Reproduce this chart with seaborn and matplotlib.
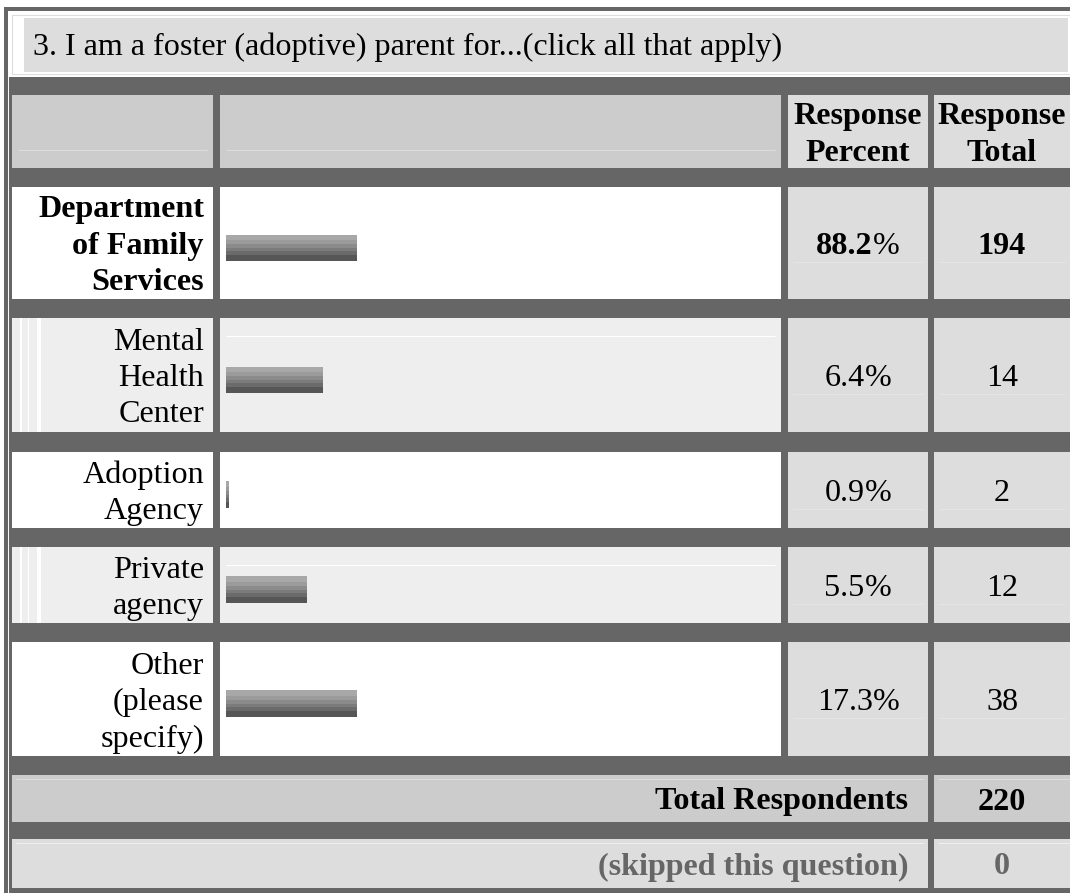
import numpy as np
import matplotlib.pyplot as plt
import seaborn as sns
from matplotlib.colors import to_rgb
from matplotlib.patches import Rectangle

sns.set_theme(style="white")
plt.rcParams['font.family'] = ['Liberation Serif', 'DejaVu Serif']
plt.rcParams['text.color'] = 'black'

# data
question = "3. I am a foster (adoptive) parent for...(click all that apply)"
answers = ["Department\nof Family\nServices", "Mental\nHealth\nCenter",
           "Adoption\nAgency", "Private\nagency", "Other\n(please\nspecify)"]
percents = [88.2, 6.4, 0.9, 5.5, 17.3]
counts = [194, 14, 2, 12, 38]
bar_widths = [131, 97, 3, 81, 131]   # bar images, as wide as drawn on the page (px)
col_headers = ["Response\nPercent", "Response\nTotal"]
total_respondents = 220
skipped = 0

# layout (pixels)
W, H = 1070, 893
DARK = "#666666"
FS = 23.1
cols = [(12, 213), (220, 781), (788, 928), (934, W)]
head = (95, 168)
rows = [(187, 299), (318, 432), (452, 528), (547, 623), (642, 756)]
total_row = (775, 822)
skip_row = (839, 888)
row_fill = ["white", "#eeeeee", "white", "#eeeeee", "white"]

fig = plt.figure(figsize=(W / 100, H / 100), dpi=100)
ax = fig.add_axes([0, 0, 1, 1])
ax.set_xlim(0, W)
ax.set_ylim(H, 0)
ax.axis("off")


def cell(x0, x1, y0, y1, color, z=1):
    ax.add_patch(Rectangle((x0, y0), x1 - x0, y1 - y0, facecolor=color,
                           edgecolor="none", zorder=z))


def hline(x0, x1, y, color, lw=1.0):
    ax.plot([x0, x1], [y, y], color=color, lw=lw * 0.72, zorder=2,
            solid_capstyle="butt")


def lines(x, yc, text, ha="center", weight="normal", color="black", gap=36.5):
    parts = text.split("\n")
    n = len(parts)
    for i, s in enumerate(parts):
        ax.text(x, yc + 11 + (i - (n - 1) / 2) * gap, s, ha=ha, va="baseline",
                fontsize=FS, fontweight=weight, color=color, zorder=5)


# frame + title
cell(4, W, 7, H, DARK, z=0)
ax.plot([7.5, 7.5], [14, H], color="white", lw=0.7, zorder=1)
cell(8, W, 11, 77, "white")
ax.add_patch(Rectangle((11.5, 14.5), W, 59, fill=False, edgecolor="#dddddd",
                       lw=0.8, zorder=1))
cell(24, 1068, 18, 72, "#dddddd", z=2)
ax.text(33, 55, question, ha="left", va="baseline", fontsize=FS,
        color="black", zorder=5)

# header row
for j, (x0, x1) in enumerate(cols):
    cell(x0, x1, head[0], head[1], "#cccccc" if j < 2 else "#dddddd")
    if j < 2:
        hline(x0 + 6, x1 - 6, 150, "#dddddd")
for (x0, x1), txt in zip(cols[2:], col_headers):
    lines((x0 + x1) / 2, (head[0] + head[1]) / 2, txt, weight="bold")

# answer rows
bar_y = [(a + b) / 2 + 5 for a, b in rows]
pct_parts = []
for i, (y0, y1) in enumerate(rows):
    yc = (y0 + y1) / 2
    w = "bold" if i == 0 else "normal"
    cell(cols[0][0], cols[0][1], y0, y1, row_fill[i])
    cell(cols[1][0], cols[1][1], y0, y1, row_fill[i])
    cell(cols[2][0], cols[2][1], y0, y1, "#dddddd")
    cell(cols[3][0], cols[3][1], y0, y1, "#dddddd")
    if row_fill[i] != "white":
        for sx, sw in [(20, 2), (28, 1), (37, 4)]:
            cell(sx, sx + sw, y0, y1, "white", z=2)
        hline(cols[1][0] + 6, cols[1][1] - 6, y0 + 18, "white")
    for x0, x1 in cols[2:]:
        hline(x0 + 5, x1 - 5, bar_y[i] + 14, "#e4e4e4")
    lines(204, yc, answers[i], ha="right", weight=w)
    t = ax.text(0, yc + 11, f"{percents[i]:.1f}", ha="left", va="baseline",
                fontsize=FS, fontweight=w, color="black", zorder=5)
    p = ax.annotate("%", xy=(1, 0), xycoords=t, ha="left", va="bottom",
                    fontsize=FS, color="black", zorder=5)
    pct_parts.append((t, p))
    lines(sum(cols[3]) / 2, yc, str(counts[i]), weight=w)

# totals
cell(cols[0][0], cols[2][1], *total_row, "#cccccc")
cell(cols[3][0], cols[3][1], *total_row, "#cccccc")
cell(cols[0][0], cols[2][1], *skip_row, "#dddddd")
cell(cols[3][0], cols[3][1], *skip_row, "#dddddd")
hline(cols[0][0] + 4, cols[2][1] - 4, total_row[0] + 4, "#dddddd")
hline(cols[3][0] + 4, cols[3][1], total_row[0] + 4, "#dddddd")
hline(cols[0][0] + 4, cols[2][1] - 4, skip_row[0] + 4, "#eeeeee")
hline(cols[3][0] + 4, cols[3][1], skip_row[0] + 4, "#eeeeee")
lines(908, sum(total_row) / 2, "Total Respondents", ha="right", weight="bold")
lines(sum(cols[3]) / 2, sum(total_row) / 2, str(total_respondents), weight="bold")
lines(908, sum(skip_row) / 2, "(skipped this question)", ha="right",
      weight="bold", color=DARK)
lines(sum(cols[3]) / 2, sum(skip_row) / 2, str(skipped), weight="bold", color=DARK)

# bars
bx0, bx1 = 226, cols[1][1]
by0, by1 = rows[0][0], rows[-1][1]
bax = fig.add_axes([bx0 / W, 1 - by1 / H, (bx1 - bx0) / W, (by1 - by0) / H])
step = np.diff(bar_y).min()
sns.barplot(x=bar_widths, y=bar_y, orient="h", native_scale=True,
            width=27 / step, color="#777777", ax=bax)

band_colors = ["#a8a8a8", "#9b9b9b", "#8b8b8b", "#7b7b7b", "#6b6b6b", "#565656"]
band_px = [6, 4, 4, 3, 4, 6]
grad = np.repeat([to_rgb(c) for c in band_colors], band_px, axis=0)[:, None, :]
for patch in bax.patches:
    x, y = patch.get_x(), patch.get_y()
    w, h = patch.get_width(), patch.get_height()
    im = bax.imshow(grad, extent=(x, x + w, y + h, y), aspect="auto",
                    interpolation="nearest", zorder=3)
    im.set_clip_path(patch)
    patch.set_facecolor("none")
    patch.set_edgecolor("none")
bax.set_xlim(0, bx1 - bx0)
bax.set_ylim(by1, by0)
bax.axis("off")
bax.patch.set_alpha(0)

# centre "88.2" + "%" as one group
fig.canvas.draw()
for (t, p) in pct_parts:
    x0, x1 = cols[2]
    wt = t.get_window_extent().width
    wp = p.get_window_extent().width
    t.set_x((x0 + x1) / 2 - (wt + wp) / 2)

fig.savefig("out.png", dpi=100)
